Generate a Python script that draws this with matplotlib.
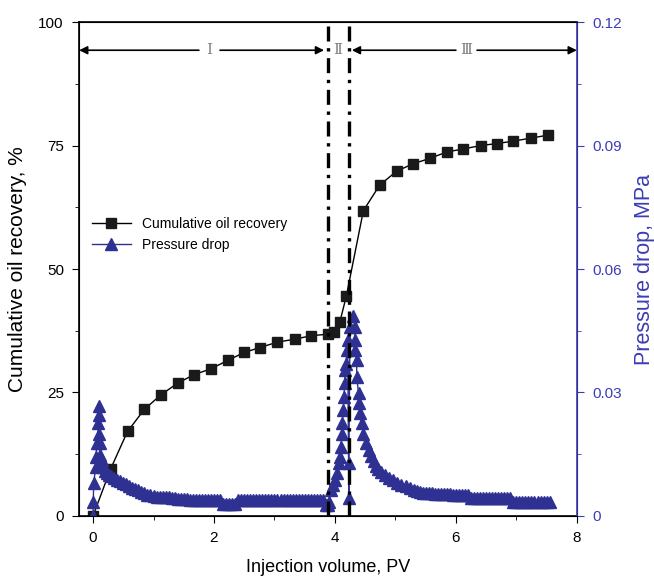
import matplotlib
matplotlib.use("Agg")
import matplotlib.pyplot as plt

plt.rcParams['font.family'] = ['Liberation Sans', 'DejaVu Sans']

BLUE = '#2E3192'
AXBLUE = '#3C3CB4'

# cumulative oil recovery (%), vs injection volume (PV)
pv_rec = [0, 0.29, 0.57, 0.85, 1.12, 1.40, 1.67, 1.95, 2.23, 2.50, 2.76, 3.05,
          3.34, 3.61, 3.89, 3.99, 4.08, 4.19, 4.47, 4.74, 5.02, 5.29, 5.57,
          5.85, 6.12, 6.41, 6.68, 6.95, 7.24, 7.52]
recovery = [0, 9.5, 17.1, 21.6, 24.5, 26.9, 28.6, 29.8, 31.5, 33.1, 34.1, 35.2,
            35.8, 36.5, 36.8, 37.3, 39.2, 44.6, 61.8, 67.0, 69.8, 71.3, 72.4,
            73.7, 74.3, 75.0, 75.4, 75.9, 76.5, 77.1]

# pressure drop (MPa), vs injection volume (PV)
pv_dp = [0.00, 0.005, 0.01, 0.045, 0.045, 0.07, 0.09, 0.095, 0.10, 0.105, 0.115,
         0.12, 0.14, 0.17, 0.20, 0.23, 0.26, 0.30, 0.35, 0.40, 0.45, 0.50, 0.55,
         0.60, 0.65, 0.70, 0.75, 0.80, 0.85, 0.90, 0.95, 1.00, 1.05, 1.10, 1.15,
         1.20, 1.25, 1.30, 1.35, 1.40, 1.45, 1.50, 1.55,
         1.60, 1.65, 1.70, 1.75, 1.80, 1.85, 1.90, 1.95, 2.00, 2.05, 2.10,
         2.15, 2.20, 2.25, 2.30, 2.35,
         2.40, 2.45, 2.50, 2.55, 2.60, 2.65, 2.70, 2.75, 2.80, 2.85, 2.90, 2.95,
         3.00, 3.05, 3.10, 3.15, 3.20, 3.25, 3.30, 3.35, 3.40, 3.45, 3.50, 3.55,
         3.60, 3.65, 3.70, 3.75, 3.80,
         3.85, 3.88, 3.90, 3.94, 3.97, 4.00, 4.03, 4.06, 4.08, 4.10, 4.11, 4.12,
         4.14, 4.15, 4.16, 4.17, 4.18, 4.20, 4.21, 4.23, 4.23, 4.25, 4.30, 4.33,
         4.33, 4.34, 4.36, 4.36, 4.39, 4.40, 4.41, 4.44, 4.47, 4.52, 4.56, 4.60,
         4.64, 4.68, 4.72, 4.77, 4.83, 4.89, 4.96, 5.03, 5.10, 5.17, 5.24, 5.30,
         5.35, 5.40,
         5.45, 5.50, 5.55, 5.60, 5.65, 5.70, 5.75, 5.80, 5.85, 5.90, 5.95, 6.00,
         6.05, 6.10, 6.15, 6.20,
         6.25, 6.30, 6.35, 6.40, 6.45, 6.50, 6.55, 6.60, 6.65, 6.70, 6.75, 6.80,
         6.85, 6.90,
         6.95, 7.00, 7.05, 7.10, 7.15, 7.20, 7.25, 7.30, 7.35, 7.40, 7.45, 7.50,
         7.55]
dp = [0.0000, 0.0035, 0.0079, 0.0120, 0.0144, 0.0177, 0.0225, 0.0268, 0.0245,
      0.0200, 0.0177, 0.0148, 0.0135, 0.0120, 0.0110, 0.0104, 0.0100, 0.0096,
      0.0092, 0.0088, 0.0085, 0.0080, 0.0077, 0.0072, 0.0068, 0.0066, 0.0062,
      0.0058, 0.0055, 0.0052, 0.0050, 0.0048, 0.0047, 0.0047, 0.0045, 0.0045,
      0.0045, 0.0043, 0.0043, 0.0042, 0.0042, 0.0042, 0.0040,
      0.0039, 0.0039, 0.0039, 0.0039, 0.0039, 0.0039, 0.0039, 0.0039, 0.0039,
      0.0039, 0.0039,
      0.0030, 0.0030, 0.0030, 0.0030, 0.0030,
      0.0039, 0.0039, 0.0039, 0.0039, 0.0039, 0.0039, 0.0039, 0.0039, 0.0039,
      0.0039, 0.0039, 0.0039, 0.0039, 0.0039, 0.0039, 0.0039, 0.0039, 0.0039,
      0.0039, 0.0039, 0.0039, 0.0039, 0.0039, 0.0039, 0.0039, 0.0039, 0.0039,
      0.0039, 0.0039,
      0.0027, 0.0027, 0.0035, 0.0063, 0.0075, 0.0087, 0.0104, 0.0128, 0.0144,
      0.0168, 0.0200, 0.0225, 0.0257, 0.0290, 0.0322, 0.0355, 0.0370, 0.0403,
      0.0428, 0.0043, 0.0128, 0.0460, 0.0485, 0.0460, 0.0428, 0.0403, 0.0379,
      0.0338, 0.0298, 0.0274, 0.0250, 0.0225, 0.0200, 0.0177, 0.0160, 0.0145,
      0.0133, 0.0122, 0.0114, 0.0106, 0.0099, 0.0093, 0.0087, 0.0081, 0.0076,
      0.0072, 0.0068, 0.0064, 0.0061, 0.0058,
      0.0055, 0.0055, 0.0055, 0.0055, 0.0053, 0.0053, 0.0053, 0.0053, 0.0053,
      0.0053, 0.0051, 0.0051, 0.0051, 0.0051, 0.0051, 0.0051,
      0.0043, 0.0043, 0.0043, 0.0043, 0.0043, 0.0043, 0.0043, 0.0043, 0.0043,
      0.0043, 0.0043, 0.0043, 0.0043, 0.0043,
      0.0035, 0.0035, 0.0035, 0.0035, 0.0035, 0.0035, 0.0035, 0.0035, 0.0035,
      0.0035, 0.0035, 0.0035, 0.0035]

stage_bounds = [3.88, 4.23]
stage_names = ['\u2160', '\u2161', '\u2162']

fig = plt.figure(figsize=(6.54, 5.81), dpi=100)
ax = fig.add_axes([0.121, 0.112, 0.761, 0.850])
ax2 = ax.twinx()

l1, = ax.plot(pv_rec, recovery, '-', color='black', lw=1, marker='s',
              markersize=6.5, markerfacecolor='#1a1a1a', markeredgecolor='#1a1a1a',
              label='Cumulative oil recovery')
l2, = ax2.plot(pv_dp, dp, '-', color=BLUE, lw=1, marker='^', markersize=8,
               markerfacecolor=BLUE, markeredgecolor=BLUE, label='Pressure drop')

ax.set_xlim(-0.23, 8)
ax.set_ylim(0, 100)
ax2.set_ylim(0, 0.12)

ax.set_xticks([0, 2, 4, 6, 8])
ax.set_xticks([1, 3, 5, 7], minor=True)
ax.set_yticks([0, 25, 50, 75, 100])
ax.set_yticks([12.5, 37.5, 62.5, 87.5], minor=True)
ax2.set_yticks([0, 0.03, 0.06, 0.09, 0.12])
ax2.set_yticklabels(['0', '0.03', '0.06', '0.09', '0.12'])
ax2.set_yticks([0.015, 0.045, 0.075, 0.105], minor=True)

ax.tick_params(axis='both', which='major', direction='out', length=5,
               labelsize=11, right=False, top=False, pad=6)
ax.tick_params(axis='both', which='minor', direction='out', length=3,
               right=False, top=False)
ax2.tick_params(axis='y', which='major', direction='out', length=5,
                labelsize=11, colors=AXBLUE, pad=6)
ax2.tick_params(axis='y', which='minor', direction='out', length=3,
                colors=AXBLUE)
ax2.spines['right'].set_color(AXBLUE)
for s in ['left', 'bottom', 'top']:
    ax.spines[s].set_linewidth(1.2)
ax2.spines['right'].set_linewidth(1.2)

ax.set_xlabel('Injection volume, PV', fontsize=13, labelpad=10)
ax.set_ylabel('Cumulative oil recovery, %', fontsize=15, labelpad=8)
ax2.set_ylabel('Pressure drop, MPa', fontsize=15.5, color=AXBLUE, labelpad=9)

# stage boundaries
for xb in stage_bounds:
    ax2.axvline(xb, color='black', lw=2.4, linestyle=(0, (4.5, 2, 1, 2)),
                zorder=5)

# stage arrows and labels
arrow_y = 94.3
aprops = dict(arrowstyle='-|>', color='black', lw=1.2, mutation_scale=12,
              shrinkA=0, shrinkB=0)
ax.annotate('', xy=(-0.23, arrow_y), xytext=(1.75, arrow_y), arrowprops=aprops)
ax.annotate('', xy=(3.82, arrow_y), xytext=(2.1, arrow_y), arrowprops=aprops)
ax.annotate('', xy=(4.28, arrow_y), xytext=(6.0, arrow_y), arrowprops=aprops)
ax.annotate('', xy=(8.0, arrow_y), xytext=(6.35, arrow_y), arrowprops=aprops)
for name, xc in zip(stage_names, [1.92, 4.05, 6.17]):
    ax.text(xc, arrow_y, name, ha='center', va='center', fontsize=11,
            color='#808080', family=['DejaVu Serif', 'Noto Sans CJK SC'])

ax.legend([l1, l2], ['Cumulative oil recovery', 'Pressure drop'],
          loc='upper left', bbox_to_anchor=(0.0, 0.63), frameon=False,
          fontsize=10, handlelength=2.8, labelspacing=0.45)

fig.savefig('out.png', dpi=100)
